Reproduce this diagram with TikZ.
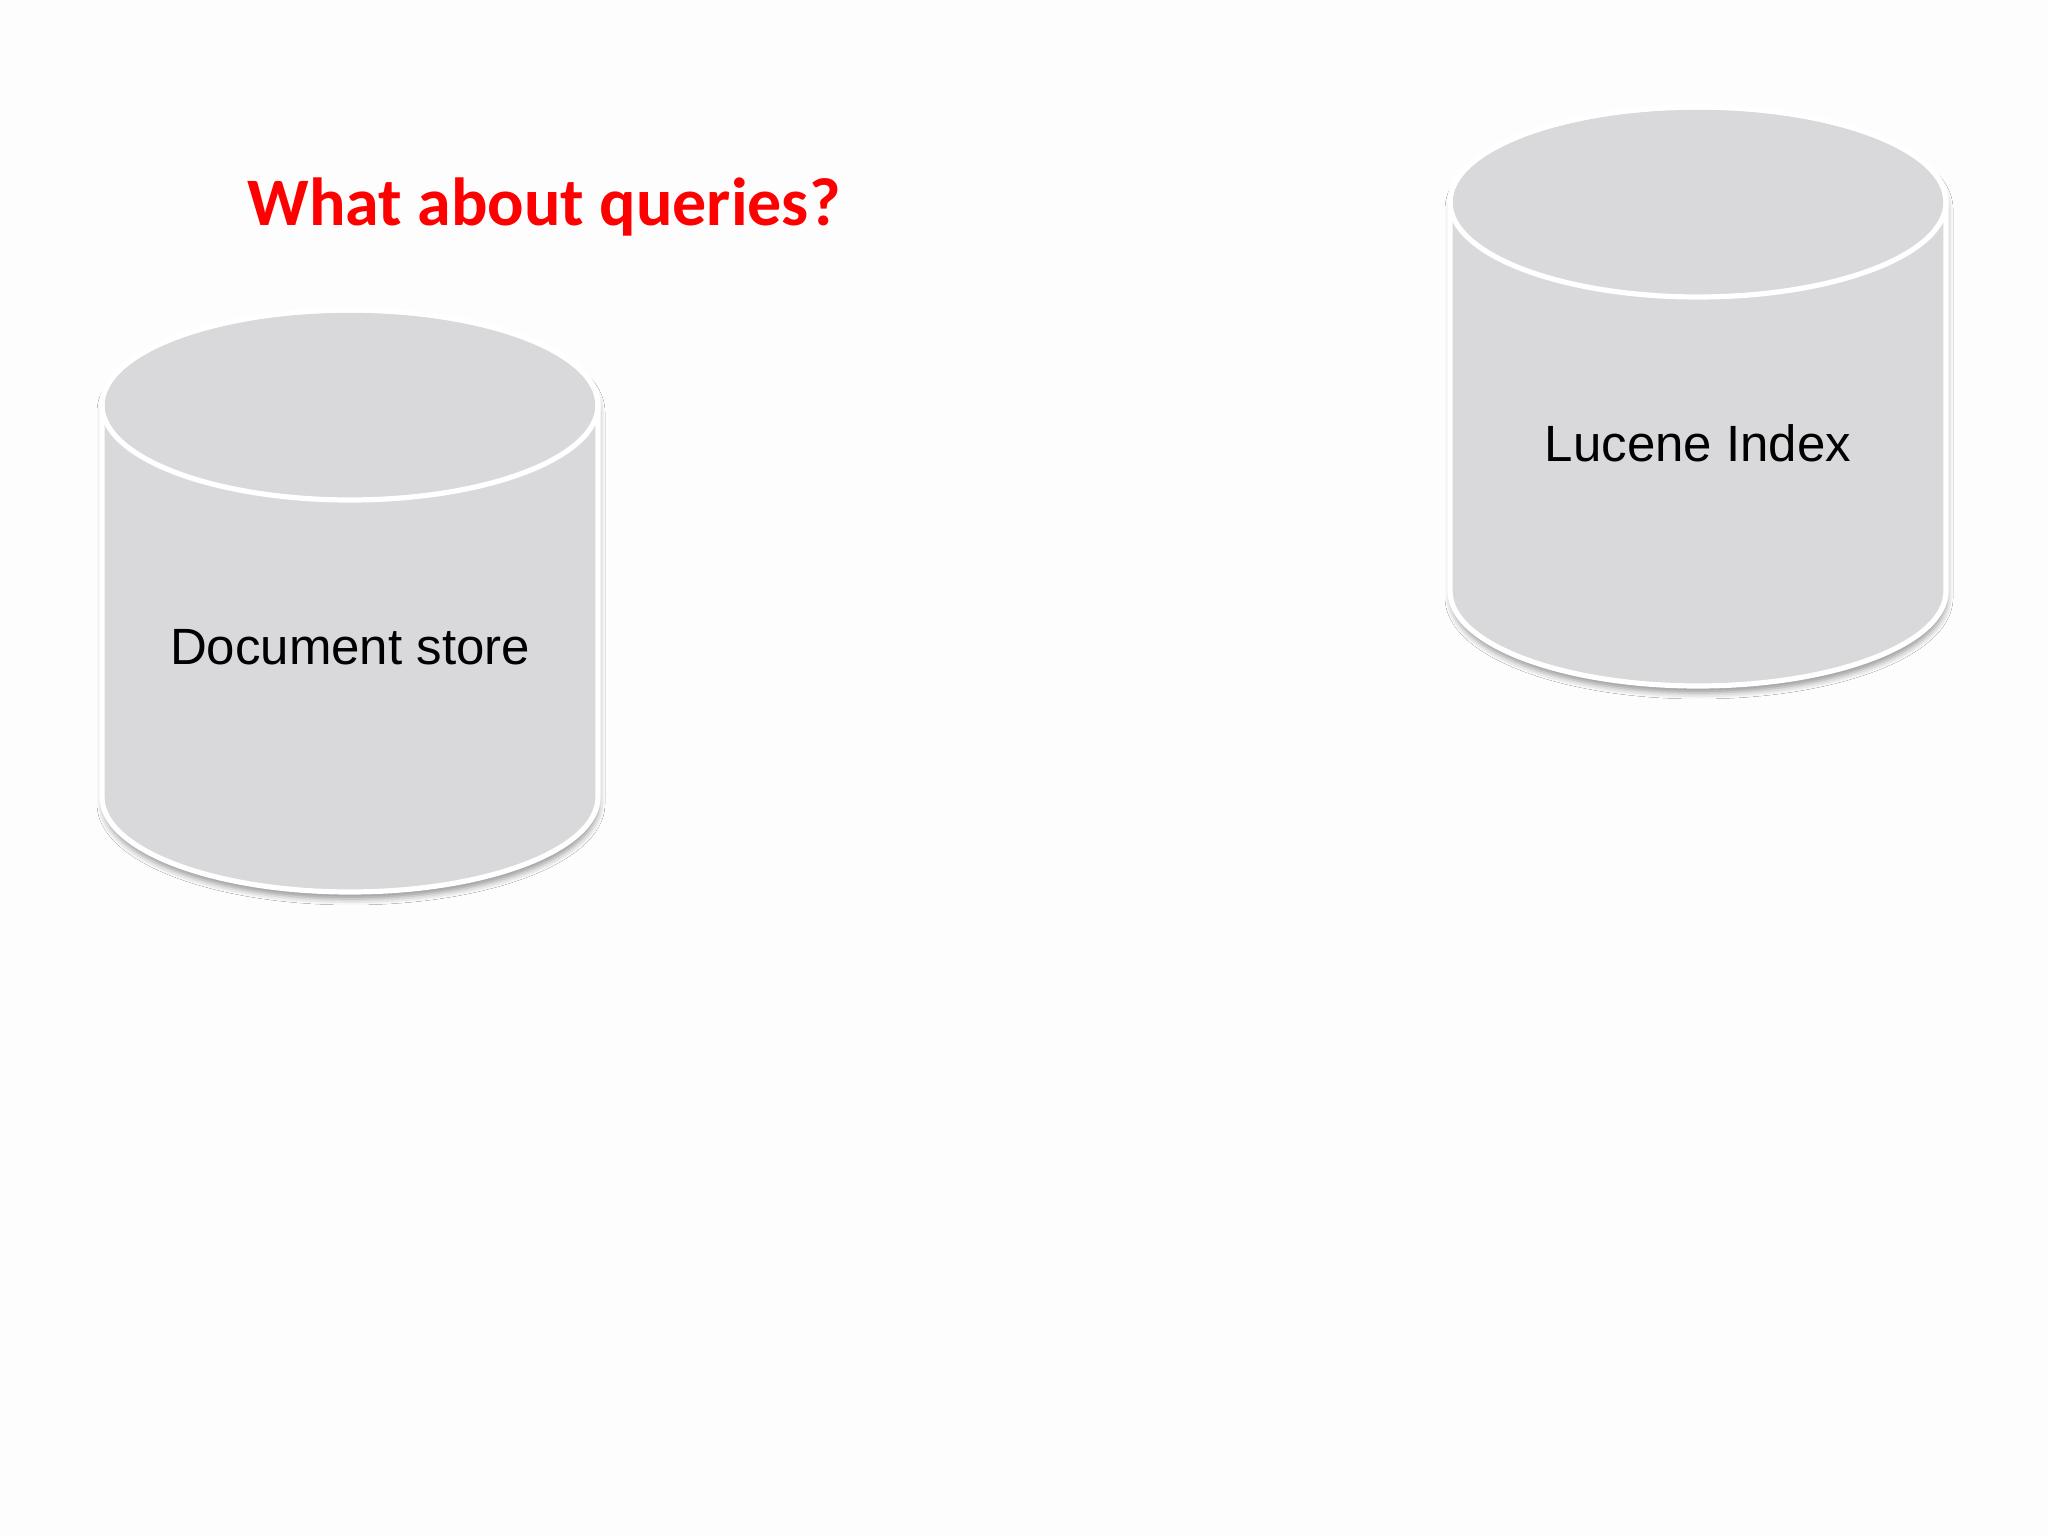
\documentclass[tikz,border=0pt]{standalone}
\usepackage{fontspec}
\setmainfont{Liberation Sans}
\newfontfamily\titlefont{Carlito}
\usetikzlibrary{shadows.blur}
\definecolor{cylgrey}{HTML}{D9D8DA}
\definecolor{titlered}{HTML}{FF0000}
\definecolor{bgwhite}{HTML}{FEFDFE}
\tikzset{
  cylbody/.style={fill=cylgrey, draw=white, line width=2.6pt,
    blur shadow={shadow xshift=0.5pt, shadow yshift=-3.5pt, shadow blur radius=3pt, shadow opacity=40}},
  cyltop/.style={draw=white, line width=2.6pt},
  cyllabel/.style={font=\fontsize{25.5}{30}\selectfont, text=black, inner sep=0pt},
  titlestyle/.style={font=\titlefont\bfseries\fontsize{34}{40}\selectfont, text=titlered, inner sep=0pt}
}
\newcommand{\mycyl}[4]{% cx, top cy, bottom cy, rx ; ry fixed 95
  \path[cylbody] (#1-#4,#2) -- (#1-#4,#3) arc[start angle=180, end angle=360, x radius=#4, y radius=95]
    -- (#1+#4,#2) arc[start angle=0, end angle=180, x radius=#4, y radius=95] -- cycle;
  \draw[cyltop] (#1,#2) ellipse[x radius=#4, y radius=95];
}
\begin{document}
\begin{tikzpicture}[x=0.5pt, y=0.5pt]
  \fill[bgwhite] (0,0) rectangle (2048,1536);
  \useasboundingbox (0,0) rectangle (2048,1536);
  \node[titlestyle] (title) at (544,1329) {What about queries?};
  \mycyl{350}{1131}{739}{248}
  \node[cyllabel] (docstore) at (350,889) {Document store};
  \mycyl{1698}{1334}{945}{248}
  \node[cyllabel] (lucene) at (1698,1093) {Lucene Index};
\end{tikzpicture}
\end{document}
